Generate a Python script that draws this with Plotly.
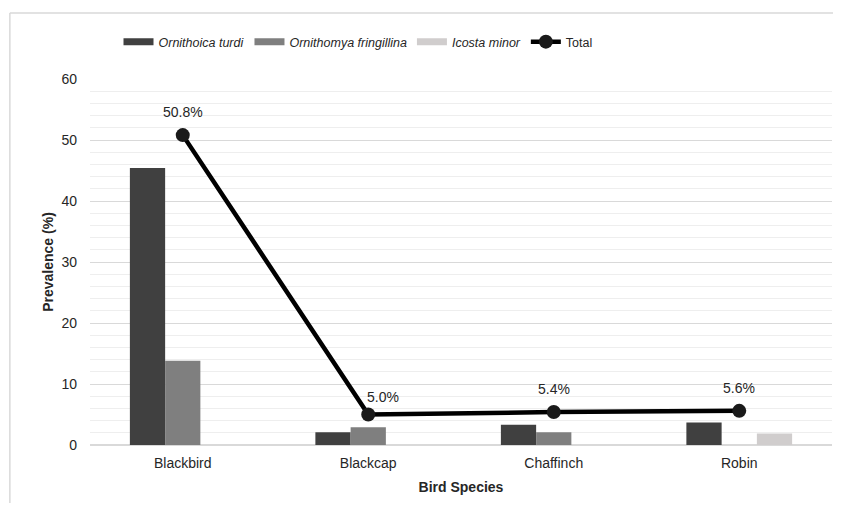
import plotly.graph_objects as go

categories = ["Blackbird", "Blackcap", "Chaffinch", "Robin"]
o_turdi = [45.4, 2.1, 3.3, 3.7]
o_fringillina = [13.8, 2.9, 2.1, 0]
icosta_minor = [0, 0, 0, 1.9]
total = [50.8, 5.0, 5.4, 5.6]

names = ["Ornithoica turdi", "Ornithomya fringillina", "Icosta minor"]
colors = ["#404040", "#7f7f7f", "#d0cdcd"]
series = [o_turdi, o_fringillina, icosta_minor]

# label placement tweaks (pixels)
label_dx = [0, 15, 0, 0]
label_dy = [23, 18, 23, 23]

FONT = "Liberation Sans, Arial, sans-serif"

# the page body has an 8px margin; keep the figure inside the 841x511 window
W, H = 825, 495

fig = go.Figure()
for name, vals, col in zip(names, series, colors):
    fig.add_trace(go.Bar(x=categories, y=vals, name=name, marker=dict(color=col, line=dict(width=0)),
                         showlegend=False, legendgroup=name))
    fig.add_trace(go.Scatter(x=[None], y=[None], mode="lines", name="<i>%s</i>" % name,
                             line=dict(color=col, width=7), legendgroup=name, showlegend=True))

fig.add_trace(go.Scatter(x=categories, y=total, mode="lines+markers", name="Total",
                         line=dict(color="black", width=4.5),
                         marker=dict(color="#1a1a1a", size=14), showlegend=True))

for c, v, dx, dy in zip(categories, total, label_dx, label_dy):
    fig.add_annotation(x=c, y=v, text="%.1f%%" % v, showarrow=False, yshift=dy, xshift=dx,
                       font=dict(family=FONT, size=14, color="#262626"))

# outer frame: left and top edges only are visible in the picture
frame = dict(color="#d9d9d9", width=1.5)
fig.add_shape(type="line", xref="paper", yref="paper", x0=-0.108, y0=-0.3, x1=-0.108, y1=1.18,
              line=frame, layer="below")
fig.add_shape(type="line", xref="paper", yref="paper", x0=-0.108, y0=1.18, x1=1.05, y1=1.18,
              line=frame, layer="below")

fig.update_layout(
    width=W, height=H,
    margin=dict(l=82, r=1, t=71, b=58, autoexpand=False),
    paper_bgcolor="white", plot_bgcolor="white",
    barmode="group", bargap=0.43, bargroupgap=0,
    font=dict(family=FONT, size=14, color="#262626"),
    legend=dict(orientation="h", x=(358 - 8) / W, xanchor="center", xref="container",
                y=1 - 34 / H, yanchor="middle", yref="container",
                bgcolor="rgba(0,0,0,0)",
                font=dict(family=FONT, size=12.5, color="#262626"), itemwidth=30,
                traceorder="normal"),
    xaxis=dict(showgrid=False, showline=False, ticks="", tickfont=dict(size=14), automargin=False,
               ticklabelstandoff=8,
               title=dict(text="<b>Bird Species</b>", font=dict(size=14), standoff=12)),
    yaxis=dict(range=[0, 60], dtick=10, showgrid=True,
               gridcolor="#d9d9d9", gridwidth=1, automargin=False,
               zeroline=True, zerolinecolor="#d9d9d9", zerolinewidth=1.5,
               showline=False, ticks="", ticklabelstandoff=12, tickfont=dict(size=14),
               minor=dict(dtick=2, showgrid=True, gridcolor="#eeeeee", gridwidth=1),
               title=dict(text="<b>Prevalence (%)</b>", font=dict(size=14), standoff=4)),
)

fig.write_html("out.html")
